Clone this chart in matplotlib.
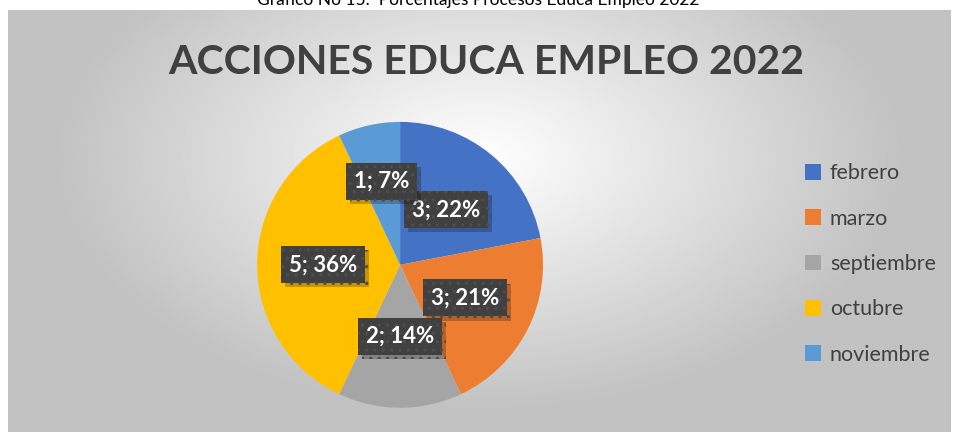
import numpy as np
import matplotlib.pyplot as plt
import matplotlib.patheffects as pe

plt.rcParams['font.family'] = ['Lato', 'DejaVu Sans']
plt.rcParams['hatch.linewidth'] = 1.2

months = ['febrero', 'marzo', 'septiembre', 'octubre', 'noviembre']
counts = [3, 3, 2, 5, 1]
percents = [22, 21, 14, 36, 7]
colors = ['#4472C4', '#ED7D31', '#A5A5A5', '#FFC000', '#5B9BD5']
label_dist = [0.5, 0.51, 0.5, 0.54, 0.6]

fig = plt.figure(figsize=(9.56, 4.32), dpi=100)
fig.patch.set_facecolor('white')

# radial gradient background of the chart area
bg = fig.add_axes([8 / 956, 0, 942 / 956, 422 / 432])
yy, xx = np.mgrid[0:1:300j, 0:1:600j]
r = np.sqrt(((xx - 0.5) / 0.75) ** 2 + ((yy - 0.65) / 1.0) ** 2)
shade = np.clip(1 - 0.4 * r, 0.76, 1.0)
bg.imshow(shade, cmap='gray', vmin=0, vmax=1, extent=[0, 1, 0, 1], aspect='auto', origin='lower')
bg.set_axis_off()

fig.text(0.5, 1.0, 'Gráfico No 15.  Porcentajes Procesos Educa Empleo 2022',
         ha='center', va='center', fontsize=12.5, color='#000000')
fig.text(0.509, 0.856, 'ACCIONES EDUCA EMPLEO 2022', ha='center', va='center',
         fontsize=29.5, fontweight='bold', color='#404040')

ax = fig.add_axes([0.269, 0.056, 0.299, 0.662])
wedges, _ = ax.pie(percents, colors=colors, startangle=90, counterclock=False,
                   radius=1, wedgeprops=dict(linewidth=0))
ax.set_xlim(-1, 1)
ax.set_ylim(-1, 1)
ax.set_aspect('equal')

for w, c, p, d in zip(wedges, counts, percents, label_dist):
    ang = np.deg2rad((w.theta1 + w.theta2) / 2)
    t = ax.text(d * np.cos(ang), d * np.sin(ang), f'{c}; {p}%', ha='center', va='center',
                fontsize=16, fontweight='bold', color='white',
                bbox=dict(boxstyle='square,pad=0.36', facecolor='#404040',
                          edgecolor='#4d4d4d', linewidth=0, hatch='..'))
    t.get_bbox_patch().set_path_effects([
        pe.SimplePatchShadow(offset=(3, -3), shadow_rgbFace='#000000', alpha=0.22),
        pe.Normal()])

leg = fig.legend(wedges, months, loc='center left', bbox_to_anchor=(0.822, 0.389),
                 frameon=False, fontsize=15.5, labelcolor='#404040',
                 handlelength=0.75, handleheight=0.75, handletextpad=0.4,
                 labelspacing=1.18)

fig.savefig('out.png', dpi=100)
